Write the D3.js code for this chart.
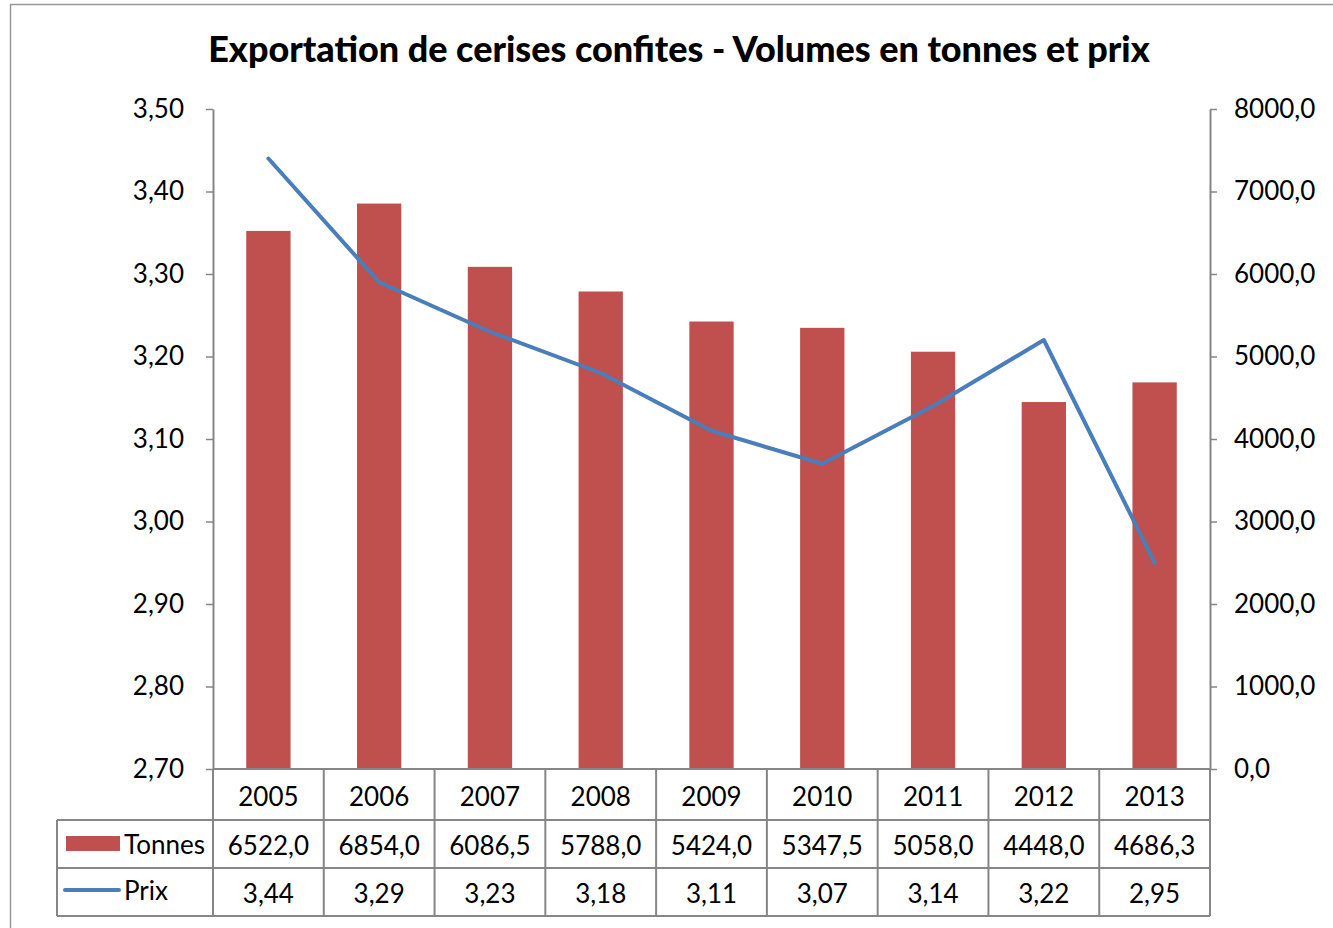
<!DOCTYPE html>
<html><head><meta charset="utf-8">
<script src="https://cdn.jsdelivr.net/npm/d3@7"></script>
<style>body{margin:0;background:#fff}svg{display:block}text{font-family:Lato,"Open Sans",sans-serif;fill:#000}</style>
</head><body>
<svg id="c" width="1333" height="928"></svg>
<script>
const years = ["2005","2006","2007","2008","2009","2010","2011","2012","2013"];
const tonnes = [6522.0,6854.0,6086.5,5788.0,5424.0,5347.5,5058.0,4448.0,4686.3];
const prix = [3.44,3.29,3.23,3.18,3.11,3.07,3.14,3.22,2.95];
const leftTicks = [2.70,2.80,2.90,3.00,3.10,3.20,3.30,3.40,3.50];
const rightTicks = [0,1000,2000,3000,4000,5000,6000,7000,8000];
const title = "Exportation de cerises confites - Volumes en tonnes et prix";

const svg = d3.select("#c");
const L=213, R=1210, T=109, B=769;
const fmt2 = v => v.toFixed(2).replace(".", ",");
const fmt1 = v => v.toFixed(1).replace(".", ",");
const gray="#868686", red="#C0504D", blue="#4A7EBB";
const fs="26px";

// outer frame
svg.append("rect").attr("x",10.5).attr("y",4.5).attr("width",1340).attr("height",940)
  .attr("fill","none").attr("stroke","#999").attr("stroke-width",1.5);

const t = svg.append("text").attr("x",(208+1150)/2).attr("y",62).attr("text-anchor","middle")
  .style("font-weight","900").style("font-size","30px").text(title);
const w = t.node().getComputedTextLength();
t.style("font-size",(30*942/w)+"px");

const x = d3.scaleBand().domain(years).range([L,R]).paddingInner(0).paddingOuter(0);
const yL = d3.scaleLinear().domain([2.70,3.50]).range([B,T]);
const yR = d3.scaleLinear().domain([0,8000]).range([B,T]);
const bw = x.bandwidth()*0.4;

svg.selectAll("rect.bar").data(years).join("rect").attr("class","bar")
  .attr("x",d=>x(d)+x.bandwidth()/2-bw/2).attr("width",bw)
  .attr("y",(d,i)=>yR(tonnes[i])).attr("height",(d,i)=>B-yR(tonnes[i])).attr("fill",red);

const line = d3.line().x((d,i)=>x(years[i])+x.bandwidth()/2).y(d=>yL(d));
svg.append("path").datum(prix).attr("d",line).attr("fill","none").attr("stroke",blue)
  .attr("stroke-width",4).attr("stroke-linejoin","round").attr("stroke-linecap","round");

// axes
const gl = svg.append("g").attr("transform",`translate(${L},0)`)
  .call(d3.axisLeft(yL).tickValues(leftTicks).tickFormat(fmt2).tickSize(7).tickPadding(22).tickSizeOuter(0));
const gr = svg.append("g").attr("transform",`translate(${R},0)`)
  .call(d3.axisRight(yR).tickValues(rightTicks).tickFormat(fmt1).tickSize(7).tickPadding(17).tickSizeOuter(0));
[gl,gr].forEach(g=>{
  g.attr("font-family",null).attr("font-size",null);
  g.select(".domain").attr("stroke",gray).attr("stroke-width",2);
  g.selectAll(".tick line").attr("stroke",gray).attr("stroke-width",1.5);
  g.selectAll(".tick text").style("font-size",fs).attr("fill","#000");
});

// data table
const tg = svg.append("g");
const ln=(x1,y1,x2,y2)=>tg.append("line").attr("x1",x1).attr("y1",y1).attr("x2",x2).attr("y2",y2).attr("stroke",gray).attr("stroke-width",2);
ln(L,769,R,769);
ln(57,820,R,820); ln(57,868,R,868); ln(57,916,R,916);
ln(57,820,57,916);
years.forEach(d=>ln(x(d),769,x(d),916));
ln(R,769,R,916);

years.forEach((d,i)=>{
  const cx=x(d)+x.bandwidth()/2;
  tg.append("text").attr("x",cx).attr("y",806).attr("text-anchor","middle").style("font-size",fs).text(d);
  tg.append("text").attr("x",cx).attr("y",855).attr("text-anchor","middle").style("font-size",fs).text(fmt1(tonnes[i]));
  tg.append("text").attr("x",cx).attr("y",903).attr("text-anchor","middle").style("font-size",fs).text(fmt2(prix[i]));
});
tg.append("rect").attr("x",66).attr("y",836).attr("width",54).attr("height",15).attr("fill",red);
tg.append("text").attr("x",124).attr("y",854).style("font-size",fs).text("Tonnes");
tg.append("line").attr("x1",65).attr("y1",890).attr("x2",119).attr("y2",890).attr("stroke",blue).attr("stroke-width",4).attr("stroke-linecap","round");
tg.append("text").attr("x",124).attr("y",900).style("font-size",fs).text("Prix");
</script>
</body></html>
